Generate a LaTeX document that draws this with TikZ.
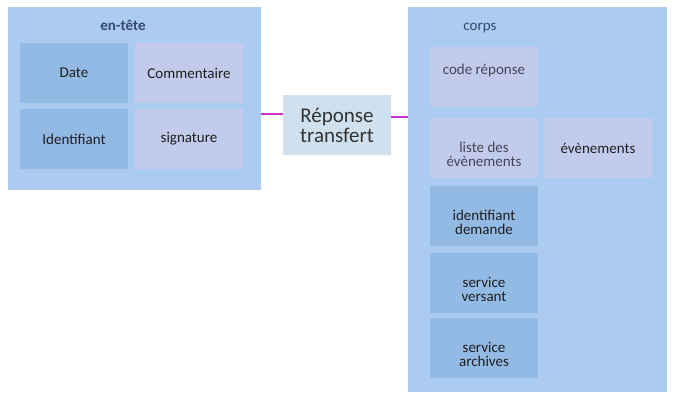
\documentclass[tikz,border=0pt]{standalone}
\usepackage{fontspec}
\setmainfont{Carlito}
\begin{document}
\begin{tikzpicture}[x=1pt,y=-1pt,
  every node/.style={inner sep=0pt, outer sep=0pt},
  container/.style={fill=contC, anchor=north west},
  darkbox/.style={fill=darkC, anchor=north west, minimum width=108pt, minimum height=60pt},
  lightbox/.style={fill=lightC, anchor=north west, minimum width=108pt, minimum height=60pt},
  txt/.style={font=\fontsize{15}{14}\selectfont, align=center, text=black!88},
  graytxt/.style={font=\fontsize{15}{14}\selectfont, align=center, text=grayT},
  conn/.style={draw=connC, line width=2pt}
]
\definecolor{contC}{HTML}{ABCBF0}
\definecolor{darkC}{HTML}{93BAE5}
\definecolor{lightC}{HTML}{C3CBED}
\definecolor{midC}{HTML}{CFE0EF}
\definecolor{connC}{HTML}{CC33CC}
\definecolor{grayT}{HTML}{454556}
\definecolor{slateT}{HTML}{34486A}
\useasboundingbox (0,0) rectangle (682,401);
% containers
\node[container, minimum width=253pt, minimum height=183pt] (entete) at (8,7) {};
\node[container, minimum width=259pt, minimum height=385pt] (corps) at (408,7) {};
\node[font=\bfseries\fontsize{15}{14}\selectfont, text=slateT, anchor=base] (enteteL) at (123,31) {en-tête};
\node[font=\fontsize{15}{14}\selectfont, text=slateT, anchor=base] (corpsL) at (480,31) {corps};
% en-tete boxes
\node[darkbox] (date) at (20,43) {};
\node[txt] at (date.center) {Date};
\node[lightbox] (comm) at (135,43) {};
\node[txt] at (comm.center) {Commentaire};
\node[darkbox] (ident) at (20,109) {};
\node[txt] at (ident.center) {Identifiant};
\node[lightbox] (sig) at (135,109) {};
\node[txt] at (sig.center) {signature};
% middle
\node[fill=midC, anchor=north west, minimum width=108pt, minimum height=60pt] (rep) at (283,95) {};
\node[font=\fontsize{21}{20}\selectfont, align=center, text=black!80] at (rep.center) {Réponse\\transfert};
% corps boxes
\node[lightbox] (code) at (430,47) {};
\node[graytxt] at ([yshift=6pt]code.center) {code réponse};
\node[lightbox] (liste) at (430,118) {};
\node[graytxt] at ([yshift=-6pt]liste.center) {liste des\\évènements};
\node[lightbox] (even) at (544,118) {};
\node[txt] at (even.center) {évènements};
\node[darkbox] (idd) at (430,186) {};
\node[txt] at ([yshift=-6pt]idd.center) {identifiant\\demande};
\node[darkbox] (sv) at (430,253) {};
\node[txt] at ([yshift=-6pt]sv.center) {service\\versant};
\node[darkbox] (sa) at (430,318) {};
\node[txt] at ([yshift=-6pt]sa.center) {service\\archives};
% connectors
\coordinate (c1) at (0,114);
\coordinate (c2) at (0,117);
\draw[conn] (entete.east |- c1) -- (rep.west |- c1);
\draw[conn] (rep.east |- c2) -- (corps.west |- c2);
\end{tikzpicture}
\end{document}
